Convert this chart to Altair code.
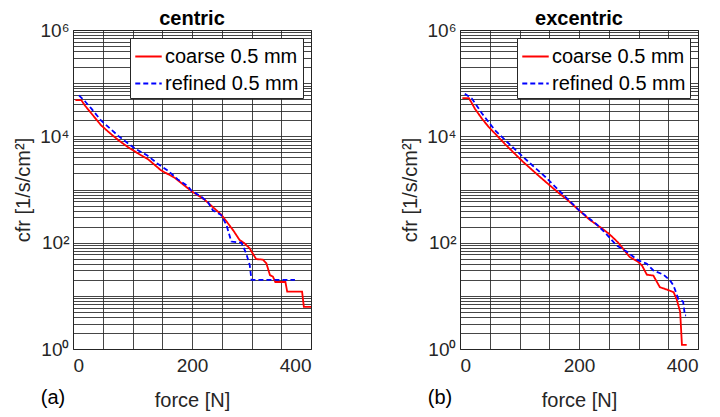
import altair as alt
import pandas as pd

# ---- data ----
SERIES = ["coarse 0.5 mm", "refined 0.5 mm"]

cen_coarse_force = [4, 14, 20, 31, 47, 62, 76, 92, 109, 126, 148, 171, 199, 221, 232, 249, 258, 270, 280, 288, 297, 303, 308, 319, 325, 331, 336, 340, 357, 360, 385, 388, 400]
cen_coarse_cfr = [47900, 47900, 38000, 26900, 16200, 11500, 8510, 6310, 4790, 3720, 2290, 1660, 933, 646, 501, 339, 251, 166, 112, 98, 78, 60, 49, 48, 41, 24.5, 23, 18.2, 18.2, 12, 12, 6.2, 6.2]

cen_refined_force = [10, 20, 31, 47, 62, 76, 104, 125, 143, 160, 176, 193, 199, 215, 227, 235, 249, 258, 266, 283, 291, 297, 300, 373]
cen_refined_cfr = [58900, 45700, 33100, 19950, 14100, 10200, 5890, 4370, 3020, 2240, 1550, 1150, 955, 741, 575, 407, 331, 214, 105, 100, 63, 38, 20, 20]

exc_coarse_force = [4, 15, 25, 37, 48, 76, 105, 133, 161, 181, 218, 237, 251, 266, 285, 299, 306, 314, 325, 336, 347, 359, 364, 370, 373, 381]
exc_coarse_cfr = [52500, 52500, 33100, 21400, 15100, 7080, 3390, 1780, 955, 631, 269, 191, 145, 100, 54, 44, 37, 25, 24, 14.5, 13.2, 11.7, 8.7, 5.0, 1.2, 1.2]

exc_refined_force = [8, 20, 37, 59, 88, 116, 144, 172, 201, 229, 242, 263, 280, 299, 314, 325, 342, 353, 359, 367, 375, 378, 380]
exc_refined_cfr = [63100, 51300, 26900, 12900, 6310, 3240, 1700, 832, 398, 224, 162, 89, 68, 47, 40, 30, 25, 19.5, 15.5, 8.7, 7.8, 4.3, 4.3]

x_grid = [0, 50, 100, 150, 200, 250, 300, 350, 400]
y_grid = [m * 10 ** k for k in range(6) for m in range(1, 10)] + [10 ** 6]

FONT = "Liberation Sans"
TXT = "#262626"


def frame(fc, cc, fr, cr):
    rows = []
    for i, (f, c) in enumerate(zip(fc, cc)):
        rows.append({"force": f, "cfr": c, "series": SERIES[0], "order": i})
    for i, (f, c) in enumerate(zip(fr, cr)):
        rows.append({"force": f, "cfr": c, "series": SERIES[1], "order": i})
    return pd.DataFrame(rows)


W, H = 238, 319

ylab = ("datum.value == 1 ? '10⁰' : datum.value == 100 ? '10²' : "
        "datum.value == 10000 ? '10⁴' : datum.value == 1000000 ? '10⁶' : ''")
xlab = "datum.value == 0 || datum.value == 200 || datum.value == 400 ? format(datum.value, 'd') : ''"


def panel(df, title, tag):
    base = alt.Chart(df)
    lines = base.mark_line(strokeWidth=1.8, clip=True).encode(
        x=alt.X("force:Q", title="force [N]",
                scale=alt.Scale(domain=[0, 400], nice=False),
                axis=alt.Axis(values=x_grid, labelExpr=xlab, ticks=False, labelPadding=7,
                              titlePadding=15)),
        y=alt.Y("cfr:Q", title="cfr [1/s/cm²]",
                scale=alt.Scale(type="log", domain=[1, 1e6], nice=False),
                axis=alt.Axis(values=y_grid, labelExpr=ylab, ticks=False, labelPadding=4,
                              titlePadding=6)),
        color=alt.Color("series:N",
                        scale=alt.Scale(domain=SERIES, range=["#ff0000", "#0000ff"]),
                        legend=alt.Legend(title=None, orient="top-right", offset=8,
                                          symbolType="stroke", symbolSize=700,
                                          symbolStrokeWidth=2, labelFontSize=20,
                                          labelFont=FONT, labelColor="#000",
                                          fillColor="white", strokeColor="#262626",
                                          padding=4, rowPadding=2, labelOffset=2,
                                          labelLimit=300)),
        strokeDash=alt.StrokeDash("series:N",
                                  scale=alt.Scale(domain=SERIES, range=[[1, 0], [5, 3]]),
                                  legend=alt.Legend(title=None, orient="top-right")),
        order="order:Q",
    )
    lab = alt.Chart(pd.DataFrame({"t": [tag]})).mark_text(
        fontSize=20, font=FONT, color="#000", align="center", baseline="middle"
    ).encode(text="t:N", x=alt.value(-20), y=alt.value(H + 49))
    return alt.layer(lines, lab).properties(
        width=W, height=H,
        title=alt.TitleParams(title, fontSize=20, font=FONT, fontWeight="bold",
                              color="#000", offset=-8),
    )


left = panel(frame(cen_coarse_force, cen_coarse_cfr, cen_refined_force, cen_refined_cfr),
             "centric", "(a)")
right = panel(frame(exc_coarse_force, exc_coarse_cfr, exc_refined_force, exc_refined_cfr),
              "excentric", "(b)")

chart = alt.hconcat(left, right, spacing=88).resolve_legend(
    color="independent", strokeDash="independent"
).resolve_scale(color="independent", strokeDash="independent").configure(
    padding={"left": 5, "top": 0, "right": 5, "bottom": 0},
    background="white",
).configure_view(stroke="#262626", strokeWidth=1).configure_axis(
    grid=True, gridColor="#262626", gridOpacity=0.85, gridWidth=1,
    domain=False, labelFont=FONT, titleFont=FONT, labelFontSize=19,
    titleFontSize=20, labelColor=TXT, titleColor=TXT, titleFontWeight="normal",
)

chart.save("out.html", embed_options={"renderer": "svg", "actions": False})
